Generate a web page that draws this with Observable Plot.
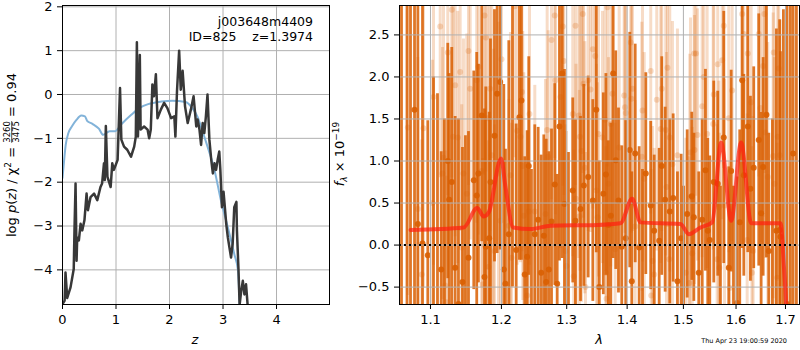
<!DOCTYPE html>
<html><head><meta charset="utf-8">
<script src="https://cdn.jsdelivr.net/npm/d3@7"></script>
<script src="https://cdn.jsdelivr.net/npm/@observablehq/plot@0.6"></script>
<style>
body{margin:0;background:white}
#wrap{position:relative;width:800px;height:350px;font-family:"DejaVu Sans";background:white}
</style>
</head><body><div id="wrap"></div>
<script>
// ---------- Left panel: log p(z) ----------
const zBlack = [0,0.04,0.056,0.088,0.15,0.21,0.225,0.244,0.263,0.275,0.306,0.338,0.369,0.41,0.45,0.475,0.525,0.59,0.65,0.71,0.74,0.775,0.79,0.81,0.84,0.9,0.93,0.96,1.03,1.075,1.1,1.15,1.21,1.28,1.34,1.37,1.39,1.41,1.445,1.46,1.525,1.59,1.62,1.65,1.68,1.71,1.745,1.775,1.84,1.9,1.96,2.03,2.09,2.11,2.14,2.18,2.21,2.245,2.29,2.34,2.4,2.45,2.5,2.525,2.56,2.59,2.62,2.65,2.68,2.71,2.745,2.78,2.81,2.84,2.87,2.9,2.93,2.95,2.98,3.01,3.06,3.09,3.12,3.15,3.18,3.21,3.25,3.26,3.29,3.31,3.34,3.37,3.4,3.43,3.46,3.48,3.55,3.7];
const lnpBlack = [-4.78,-4.7,-4.06,-4.64,-4.4,-3.98,-3.03,-2.03,-3.79,-3.26,-3.33,-2.95,-3.1,-2.87,-2.26,-2.64,-2.34,-2.26,-2.41,-2.11,-2.03,-1.57,-1.95,-0.72,-1.88,-2.11,-1.57,-1.72,-1.49,0.15,-1.03,-1.19,-1.26,-1.42,-1.19,-0.96,1.19,-0.96,0.9,-0.8,-0.73,-0.8,-1.0,-0.8,0.23,-0.04,0.46,-0.54,-0.34,-0.19,-0.31,-0.54,-0.5,-0.96,0.08,1.0,0.11,0.54,-0.27,-0.65,-0.34,-0.04,-0.73,-0.57,-0.8,-1.15,-0.65,-0.88,-0.5,0.0,-1.03,-1.49,-1.8,-1.57,-1.72,-1.49,-1.3,-1.72,-2.57,-2.22,-2.95,-3.26,-3.49,-3.72,-3.41,-2.57,-2.45,-3.1,-4.02,-4.8,-4.48,-4.25,-4.56,-4.33,-4.8,-5.5,-7,-9];
const zBlue = [0,0.02,0.06,0.11,0.18,0.26,0.35,0.42,0.46,0.56,0.68,0.76,0.88,0.98,1.1,1.28,1.45,1.6,1.85,2.05,2.3,2.42,2.52,2.62,2.7,2.84,2.96,3.09,3.21,3.28,3.31,3.36];
const lnpBlue = [-1.9,-1.64,-1.15,-0.88,-0.72,-0.58,-0.48,-0.5,-0.6,-0.67,-0.78,-0.92,-0.84,-0.84,-0.68,-0.47,-0.3,-0.22,-0.16,-0.14,-0.17,-0.3,-0.5,-0.85,-1.15,-1.72,-2.41,-3.03,-3.64,-4.02,-4.8,-6];
const zTicks = [0,1,2,3,4];
const lnpTicks = [-4,-3,-2,-1,0,1,2];

// ---------- Right panel: spectrum ----------
const darkLam = [1.0616,1.0688,1.0734,1.0787,1.0831,1.0893,1.0964,1.1041,1.1095,1.1146,1.1190,1.1236,1.1255,1.1291,1.1338,1.1384,1.1440,1.1482,1.1525,1.1600,1.1642,1.1666,1.1714,1.1753,1.1772,1.1821,1.1840,1.1898,1.1937,1.1982,1.2035,1.2059,1.2109,1.2164,1.2219,1.2268,1.2298,1.2348,1.2384,1.2409,1.2450,1.2501,1.2553,1.2599,1.2640,1.2677,1.2718,1.2760,1.2811,1.2849,1.2885,1.2928,1.2964,1.3028,1.3097,1.3140,1.3222,1.3276,1.3347,1.3423,1.3480,1.3530,1.3597,1.3640,1.3681,1.3722,1.3762,1.3806,1.3852,1.3908,1.3976,1.4045,1.4080,1.4139,1.4208,1.4266,1.4324,1.4411,1.4472,1.4561,1.4607,1.4668,1.4751,1.4813,1.4891,1.4959,1.5002,1.5070,1.5155,1.5193,1.5285,1.5350,1.5411,1.5455,1.5493,1.5569,1.5645,1.5697,1.5761,1.5858,1.5905,1.5950,1.6022,1.6073,1.6121,1.6153,1.6232,1.6285,1.6351,1.6452,1.6500,1.6541,1.6608,1.6655,1.6730,1.6812,1.6881,1.6895,1.6957,1.7033,1.7103,1.7160,1.7230];
const darkFlux = [3.2,3.1,-1.0,1.61,0.25,0.02,-0.12,-0.9,-1.2,-0.29,-1.0,1.0,0.54,0.75,-0.27,-0.7,-0.44,-1.0,-0.15,0.77,0.59,0.85,1.54,-0.38,-0.02,0.08,0.75,1.3,1.8,1.94,-0.29,-0.46,0.13,3.0,-0.06,1.52,1.72,-0.35,-0.14,0.94,-1.1,0.13,0.3,-0.33,0.11,-0.44,-0.29,0.28,0.72,-0.46,1.41,2.04,0.49,-0.8,0.65,0.29,0.43,0.71,0.81,0.53,1.61,-0.5,0.61,0.84,0.24,0.35,2.04,1.01,0.53,-0.02,0.08,1.13,-0.43,1.09,-0.03,-0.9,0.85,0.47,0.17,0.05,0.94,0.54,0.4,0.56,-0.43,0.08,-0.9,0.37,0.58,0.33,-0.33,0.3,0.89,0.17,0.06,0.75,0.73,-0.9,1.28,-0.27,0.88,-1.0,-0.69,0.27,1.96,0.83,1.41,0.67,0.92,1.25,0.38,0.93,1.55,-0.07,-1.0,0.17,0.18,0.1,-1.2,-0.7,-1.5,1.09,3.2];
const darkErr = [4.0,4.0,4.0,3.2,2.8,2.9,1.6,2.9,3.0,1.4,2.5,1.4,1.5,1.6,1.8,2.2,1.6,2.3,1.5,1.3,1.7,1.3,1.5,2.0,1.9,1.5,1.7,1.5,1.9,2.0,2.2,1.6,2.3,3.5,1.5,1.7,1.9,1.4,1.5,1.3,2.0,1.3,1.1,1.4,1.2,1.7,1.4,1.1,1.2,1.3,1.6,2.2,1.6,1.9,1.1,1.2,1.1,1.2,1.2,1.2,1.7,1.5,1.2,1.2,1.0,1.1,2.2,1.3,1.1,1.2,1.4,1.4,1.3,1.3,1.2,1.8,1.2,1.0,0.9,1.1,1.3,1.1,1.1,1.0,1.3,1.0,1.6,1.0,1.0,1.0,1.2,1.2,1.2,1.1,1.0,1.2,1.1,1.6,1.5,1.2,1.2,1.7,1.5,1.1,2.0,1.2,1.5,1.1,1.2,1.5,1.2,1.3,1.7,1.4,2.5,2.4,2.5,2.2,4.0,4.0,5.0,4.0,4.0];

const lightLam = [1.0699,1.0830,1.0883,1.0906,1.1027,1.1041,1.1132,1.1163,1.1177,1.1200,1.1218,1.1236,1.1291,1.1308,1.1338,1.1374,1.1408,1.1430,1.1454,1.1501,1.1525,1.1549,1.1642,1.1666,1.1714,1.1724,1.1753,1.1772,1.1801,1.1811,1.1833,1.1859,1.1884,1.1898,1.1957,1.1986,1.2001,1.2109,1.2134,1.2149,1.2198,1.2234,1.2283,1.2306,1.2318,1.2333,1.2384,1.2409,1.2420,1.2501,1.2666,1.2692,1.2708,1.2760,1.2811,1.2822,1.2901,1.2938,1.2954,1.2981,1.2996,1.3097,1.3113,1.3141,1.3149,1.3194,1.3203,1.3214,1.3238,1.3259,1.3271,1.3292,1.3303,1.3347,1.3385,1.3423,1.3463,1.3484,1.3501,1.3517,1.3583,1.3628,1.3639,1.3650,1.3667,1.3684,1.3722,1.3751,1.3796,1.3864,1.3949,1.3963,1.3977,1.4062,1.4074,1.4092,1.4139,1.4254,1.4266,1.4296,1.4411,1.4420,1.4442,1.4472,1.4518,1.4589,1.4607,1.4679,1.4692,1.4710,1.4741,1.4751,1.4800,1.4891,1.5044,1.5107,1.5118,1.5131,1.5163,1.5200,1.5205,1.5233,1.5261,1.5349,1.5379,1.5443,1.5558,1.5569,1.5634,1.5645,1.5665,1.5678,1.5730,1.5761,1.5775,1.5858,1.5877,1.5924,1.6121,1.6153,1.6220,1.6232,1.6299,1.6315,1.6339,1.6452,1.6486,1.6541,1.6567,1.6588,1.6635,1.6745,1.6757,1.6771,1.6827,1.6839,1.6860,1.6881];
const lightFlux = [1.4,0.43,-0.35,1.39,0.5,1.76,2.6,0.85,1.04,-0.48,-0.68,2.29,2.8,1.29,1.9,1.28,2.06,-0.03,0.85,0.61,2.31,1.86,1.96,2.12,0.88,-0.47,2.73,2.47,1.51,-0.26,1.86,1.07,0.73,-0.07,0.85,0.29,2.21,0.23,0.83,-0.15,2.84,1.36,1.29,1.82,0.94,0.35,-0.6,0.4,1.56,0.4,0.37,1.37,1.05,2.44,2.73,1.96,1.76,2.6,2.19,-0.07,-0.25,1.56,-0.37,2.61,0.55,1.54,0.34,1.29,1.12,2.75,1.92,0.92,-0.5,1.96,1.85,2.33,2.25,0.65,0.33,1.32,1.28,1.49,-0.33,-0.64,2.83,0.73,1.44,1.8,-0.05,1.16,1.78,1.64,1.57,2.41,1.74,1.86,0.22,1.05,1.6,0.79,2.07,-0.6,-0.19,-0.35,1.73,1.38,1.86,1.37,0.69,2.11,-0.17,1.28,0.96,1.07,-0.33,-0.45,0.57,1.1,-0.1,2.28,1.13,2.28,1.31,1.65,2.0,1.32,1.44,1.79,-0.17,2.15,0.45,-0.27,2.2,2.61,0.47,1.51,-0.51,1.84,2.75,2.51,0.06,2.28,1.7,-0.33,-0.07,2.51,1.63,2.13,2.75,1.34,0.81,1.06,2.29,0.73,-0.39,1.29,2.1,1.07];
const lightErr = [2.0,1.8,1.6,1.9,1.7,2.0,1.8,1.5,1.9,1.6,1.5,1.7,2.0,1.6,1.8,1.5,1.9,1.7,1.6,1.9,1.6,1.8,1.7,2.0,1.6,1.5,1.9,1.6,1.8,1.5,1.7,1.9,1.6,1.5,1.8,1.6,1.9,1.5,1.7,1.6,1.8,1.6,1.5,1.9,1.6,1.7,1.5,1.6,1.8,1.5,1.6,1.8,1.5,1.9,1.7,1.6,1.8,1.9,1.6,1.5,1.6,1.7,1.5,1.9,1.6,1.7,1.5,1.6,1.8,1.9,1.6,1.5,1.6,1.8,1.7,1.9,1.6,1.5,1.6,1.7,1.5,1.8,1.5,1.6,1.9,1.5,1.7,1.6,1.5,1.7,1.8,1.5,1.6,1.9,1.6,1.7,1.5,1.6,1.8,1.5,1.7,1.5,1.6,1.5,1.8,1.6,1.7,1.5,1.6,1.9,1.5,1.6,1.7,1.5,1.6,1.5,1.7,1.6,1.5,1.8,1.6,1.7,1.5,1.8,1.7,1.6,1.5,1.8,1.6,1.7,1.5,1.6,1.9,1.7,1.5,1.6,1.5,1.8,1.9,1.7,1.5,1.6,1.8,1.5,1.6,1.7,1.6,1.8,1.9,1.5,1.6,1.7,1.8,1.5,1.6,1.7,1.8,1.6];

const modelLam = [1.0734,1.1458,1.1648,1.1743,1.1815,1.1995,1.2060,1.2174,1.2435,1.2744,1.3495,1.3886,1.4086,1.4231,1.4946,1.5100,1.5317,1.5539,1.5711,1.5905,1.6100,1.6300,1.6896,1.6922,1.6960,1.7000,1.7030];
const modelFlux = [0.18,0.21,0.44,0.34,0.39,1.03,0.69,0.21,0.19,0.23,0.24,0.26,0.55,0.27,0.25,0.13,0.21,0.27,1.22,0.29,1.22,0.26,0.26,0.17,-0.19,-0.54,-0.9];
const lamTicks = [1.1,1.2,1.3,1.4,1.5,1.6,1.7];
const fluxTicks = [-0.5,0,0.5,1,1.5,2,2.5];

// ---------- tables ----------
const black = zBlack.map((z,i)=>({z, v:lnpBlack[i]}));
const blue = zBlue.map((z,i)=>({z, v:lnpBlue[i]}));
const dark = darkLam.map((l,i)=>({l, f:darkFlux[i], e:darkErr[i]}));
const light = lightLam.map((l,i)=>({l, f:lightFlux[i], e:lightErr[i]}));
const model = modelLam.map((l,i)=>({l, f:modelFlux[i]}));

const style = {fontFamily:"DejaVu Sans", fontSize:"13px", color:"black", background:"transparent", overflow:"visible"};
const gridStyle = {stroke:"#b0b0b0", strokeOpacity:1, strokeWidth:1};
const ORANGE = "#d95f02";

const left = Plot.plot({
  width:335, height:350, marginLeft:62, marginRight:6, marginTop:5, marginBottom:46,
  style,
  x:{domain:[0,4.99]}, y:{domain:[-4.79,2.03]},
  marks:[
    Plot.gridX({ticks:zTicks, ...gridStyle}),
    Plot.gridY({ticks:lnpTicks, ...gridStyle}),
    Plot.line(blue, {x:"z", y:"v", stroke:"#82b3d9", strokeWidth:2, curve:"monotone-x", clip:true}),
    Plot.line(black, {x:"z", y:"v", stroke:"#383838", strokeWidth:2.5, strokeLinejoin:"round", clip:true}),
    Plot.axisX({ticks:zTicks, tickSize:5, tickPadding:5, label:null, tickFormat:d3.format("d")}),
    Plot.axisY({ticks:lnpTicks, tickSize:5, tickPadding:5, label:null, tickFormat:d3.format("d")}),
    Plot.frame({stroke:"black", strokeWidth:1})
  ]
});

const right = Plot.plot({
  width:465, height:350, marginLeft:64, marginRight:1, marginTop:5, marginBottom:46,
  style,
  x:{type:"log", domain:[1.059,1.7295]}, y:{domain:[-0.707,2.85]},
  marks:[
    Plot.ruleX(light, {x:"l", y1:d=>d.f-d.e, y2:d=>d.f+d.e, stroke:ORANGE, strokeOpacity:0.22, strokeWidth:3, clip:true}),
    Plot.dot(light, {x:"l", y:"f", r:3, fill:ORANGE, fillOpacity:0.22, clip:true}),
    Plot.ruleX(dark, {x:"l", y1:d=>d.f-d.e, y2:d=>d.f+d.e, stroke:ORANGE, strokeOpacity:0.85, strokeWidth:2.8, clip:true}),
    Plot.dot(dark, {x:"l", y:"f", r:3, fill:ORANGE, fillOpacity:0.9, clip:true}),
    Plot.gridX({ticks:lamTicks, ...gridStyle}),
    Plot.gridY({ticks:fluxTicks, ...gridStyle}),
    Plot.line(model, {x:"l", y:"f", stroke:"#ff2010", strokeOpacity:0.72, strokeWidth:4, curve:"monotone-x", clip:true}),
    Plot.ruleY([0], {stroke:"black", strokeWidth:2, strokeDasharray:"2,3"}),
    Plot.axisX({ticks:lamTicks, tickSize:5, tickPadding:5, label:null, tickFormat:d3.format(".1f")}),
    Plot.axisY({ticks:fluxTicks, tickSize:5, tickPadding:5, label:null, tickFormat:d3.format(".1f")}),
    Plot.frame({stroke:"black", strokeWidth:1})
  ]
});

const wrap = document.getElementById("wrap");
left.style.position = "absolute"; left.style.left = "0px"; left.style.top = "0px";
right.style.position = "absolute"; right.style.left = "335px"; right.style.top = "0px";
wrap.appendChild(left); wrap.appendChild(right);

// ---------- text overlay ----------
const NS = "http://www.w3.org/2000/svg";
function el(tag, attrs, parent){ const e=document.createElementNS(NS,tag); for (const k in attrs) e.setAttribute(k, attrs[k]); parent.appendChild(e); return e; }
function ts(parent, s, attrs){ const t=el("tspan", attrs||{}, parent); t.textContent=s; return t; }
const ov = el("svg", {width:800, height:350, "font-family":"DejaVu Sans"}, wrap);
ov.style.position="absolute"; ov.style.left="0px"; ov.style.top="0px"; ov.style.pointerEvents="none";

let a1 = el("text", {x:313, y:26, "font-size":12.5, "text-anchor":"end", style:"white-space:pre"}, ov); a1.textContent = "j003648m4409";
let a2 = el("text", {x:313, y:41, "font-size":12.5, "text-anchor":"end", style:"white-space:pre"}, ov); a2.textContent = "ID=825    z=1.3974";

let xl = el("text", {x:195, y:344, "font-size":13, "text-anchor":"middle", "font-style":"italic"}, ov); xl.textContent="z";
let xr = el("text", {x:599, y:344, "font-size":13, "text-anchor":"middle", "font-style":"italic"}, ov); xr.textContent="λ";

let tsT = el("text", {x:787, y:343, "font-size":6.5, "text-anchor":"end"}, ov); tsT.textContent="Thu Apr 23 19:00:59 2020";

{
  const g = el("g", {transform:"translate(16,155) rotate(-90)"}, ov);
  const inner = el("g", {}, g);
  const t1 = el("text", {x:0, y:0, "font-size":13, style:"white-space:pre"}, inner);
  ts(t1,"log "); ts(t1,"p",{"font-style":"italic"}); ts(t1,"("); ts(t1,"z",{"font-style":"italic"}); ts(t1,") / χ");
  ts(t1,"2",{"font-size":9, dy:-5}); ts(t1," = ",{dy:5});
  const w1 = t1.getComputedTextLength();
  const num = el("text", {x:w1, y:-6, "font-size":8.5}, inner); num.textContent="3260";
  const den = el("text", {x:w1, y:3, "font-size":8.5}, inner); den.textContent="3475";
  const wf = Math.max(num.getComputedTextLength(), den.getComputedTextLength());
  el("line", {x1:w1, x2:w1+wf, y1:-4.3, y2:-4.3, stroke:"black", "stroke-width":0.7}, inner);
  const t3 = el("text", {x:w1+wf, y:0, "font-size":13, style:"white-space:pre"}, inner); t3.textContent=" = 0.94";
  const W = w1 + wf + t3.getComputedTextLength();
  inner.setAttribute("transform", `translate(${-W/2},0)`);
}
{
  const g = el("g", {transform:"translate(344,154) rotate(-90)"}, ov);
  const inner = el("g", {}, g);
  const t = el("text", {x:0, y:0, "font-size":13, style:"white-space:pre"}, inner);
  ts(t,"f",{"font-style":"italic"}); ts(t,"λ",{"font-size":9, "font-style":"italic", dy:3});
  ts(t," × 10",{dy:-3}); ts(t,"−19",{"font-size":9, dy:-5});
  const W = t.getComputedTextLength();
  inner.setAttribute("transform", `translate(${-W/2},0)`);
}
</script>
</body></html>
